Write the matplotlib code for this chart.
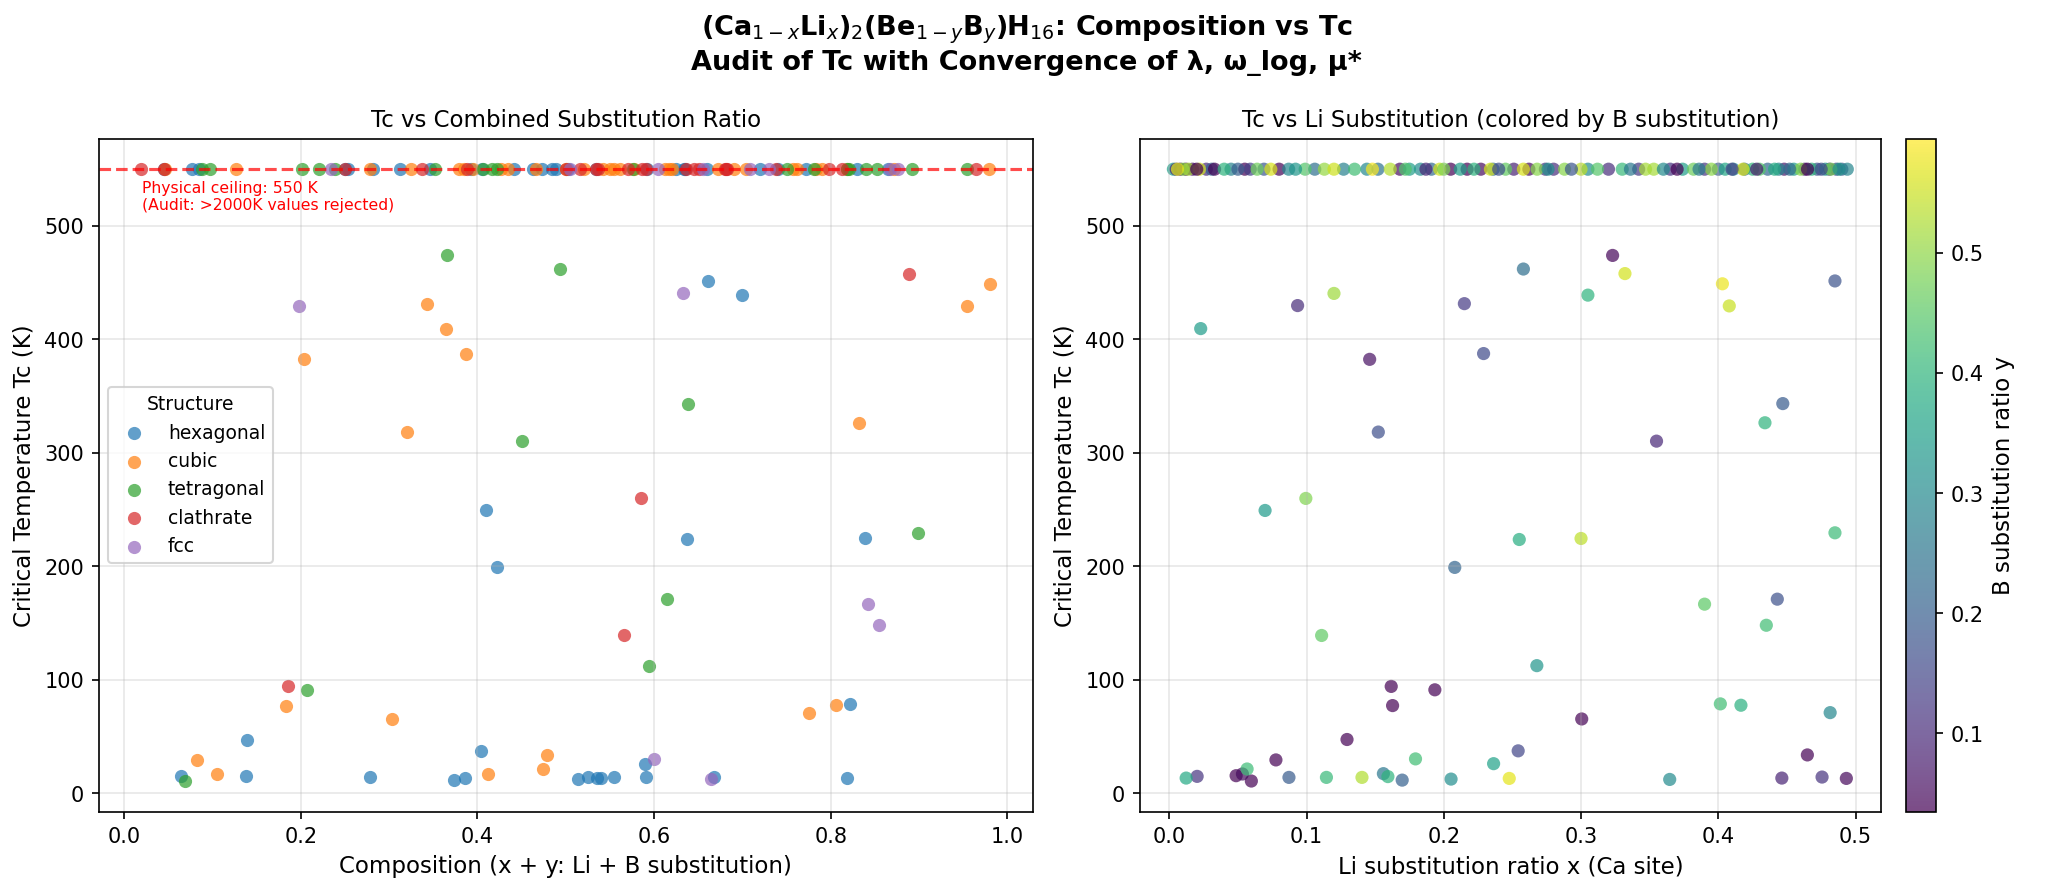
import numpy as np
import matplotlib.pyplot as plt

structures = ['hexagonal', 'cubic', 'tetragonal', 'clathrate', 'fcc']
tc_ceiling = 550

# candidates clipped to the 550 K ceiling: Li ratio x, B ratio y, structure
ceil_li = [0.012, 0.008, 0.055, 0.017, 0.080, 0.027, 0.059, 0.168, 0.031, 0.205,
           0.217, 0.069, 0.227, 0.262, 0.045, 0.251, 0.106, 0.003, 0.087, 0.280,
           0.274, 0.152, 0.127, 0.191, 0.320, 0.144, 0.236, 0.342, 0.365, 0.183,
           0.010, 0.390, 0.448, 0.175, 0.463, 0.099, 0.212, 0.481, 0.022, 0.400,
           0.305, 0.113, 0.419, 0.486, 0.472, 0.436, 0.120, 0.490, 0.161, 0.245,
           0.411, 0.374, 0.444, 0.330, 0.197, 0.268, 0.405, 0.288, 0.234, 0.455,
           0.478, 0.425, 0.300, 0.382, 0.468, 0.353, 0.430, 0.395, 0.460, 0.482,
           0.418,
           0.033, 0.005, 0.040, 0.014, 0.064, 0.074, 0.092, 0.135, 0.148, 0.172,
           0.187, 0.200, 0.222, 0.240, 0.258, 0.276, 0.293, 0.312, 0.336, 0.347,
           0.360, 0.370, 0.386, 0.410, 0.428, 0.441, 0.452, 0.465, 0.475, 0.488,
           0.494, 0.020, 0.006, 0.050]
ceil_b = [0.007, 0.038, 0.022, 0.068, 0.008, 0.100, 0.142, 0.053, 0.203, 0.034,
          0.033, 0.184, 0.051, 0.050, 0.280, 0.086, 0.240, 0.349, 0.292, 0.105,
          0.114, 0.241, 0.279, 0.226, 0.107, 0.297, 0.227, 0.124, 0.120, 0.306,
          0.490, 0.115, 0.068, 0.346, 0.073, 0.443, 0.349, 0.090, 0.555, 0.192,
          0.300, 0.507, 0.206, 0.150, 0.173, 0.220, 0.553, 0.193, 0.530, 0.459,
          0.298, 0.346, 0.286, 0.410, 0.554, 0.494, 0.367, 0.493, 0.556, 0.343,
          0.335, 0.405, 0.540, 0.470, 0.397, 0.519, 0.446, 0.497, 0.494, 0.483,
          0.561,
          0.012, 0.092, 0.395, 0.520, 0.470, 0.560, 0.330, 0.420, 0.590, 0.440,
          0.095, 0.480, 0.395, 0.165, 0.560, 0.310, 0.180, 0.445, 0.255, 0.520,
          0.300, 0.025, 0.265, 0.140, 0.075, 0.380, 0.230, 0.035, 0.160, 0.330,
          0.290, 0.025, 0.570, 0.200]
ceil_struct = ['clathrate', 'cubic', 'hexagonal', 'hexagonal', 'tetragonal', 'cubic',
               'tetragonal', 'tetragonal', 'fcc', 'tetragonal', 'clathrate', 'hexagonal',
               'cubic', 'hexagonal', 'cubic', 'clathrate', 'hexagonal', 'tetragonal',
               'cubic', 'cubic', 'clathrate', 'hexagonal', 'tetragonal', 'tetragonal',
               'cubic', 'hexagonal', 'hexagonal', 'cubic', 'hexagonal', 'hexagonal',
               'cubic', 'fcc', 'clathrate', 'cubic', 'clathrate', 'cubic',
               'cubic', 'clathrate', 'cubic', 'hexagonal', 'fcc', 'cubic',
               'hexagonal', 'clathrate', 'clathrate', 'fcc', 'cubic', 'clathrate',
               'cubic', 'cubic', 'fcc', 'hexagonal', 'fcc', 'hexagonal',
               'tetragonal', 'cubic', 'hexagonal', 'tetragonal', 'cubic', 'clathrate',
               'clathrate', 'hexagonal', 'tetragonal', 'tetragonal', 'hexagonal', 'cubic',
               'fcc', 'tetragonal', 'tetragonal', 'clathrate', 'cubic',
               'hexagonal', 'tetragonal', 'cubic', 'hexagonal', 'clathrate', 'hexagonal',
               'tetragonal', 'cubic', 'clathrate', 'cubic', 'hexagonal', 'clathrate',
               'cubic', 'hexagonal', 'cubic', 'clathrate', 'hexagonal', 'cubic',
               'clathrate', 'fcc', 'hexagonal', 'cubic', 'clathrate', 'cubic',
               'hexagonal', 'tetragonal', 'clathrate', 'clathrate', 'hexagonal', 'tetragonal',
               'cubic', 'clathrate', 'tetragonal', 'hexagonal']

# candidates below the ceiling
low_li = [0.0229, 0.0935, 0.120, 0.146, 0.408, 0.0698, 0.0995, 0.111, 0.1617, 0.1935,
          0.1627, 0.3005, 0.1295, 0.0777, 0.0487, 0.0598, 0.0533, 0.156, 0.0203, 0.0872,
          0.1697, 0.0123, 0.2053, 0.3646, 0.2477, 0.4933, 0.4463, 0.4756, 0.1593, 0.1404,
          0.1145, 0.2542, 0.4649, 0.0567, 0.2363, 0.1794, 0.2678, 0.4815, 0.4165, 0.4015,
          0.390, 0.435, 0.255, 0.300, 0.485, 0.208, 0.443, 0.434, 0.355, 0.447,
          0.229, 0.215, 0.323, 0.258, 0.332, 0.403, 0.485, 0.305, 0.1523]
low_b = [0.342, 0.104, 0.513, 0.057, 0.547, 0.340, 0.486, 0.455, 0.024, 0.013,
         0.021, 0.0025, 0.009, 0.005, 0.015, 0.009, 0.052, 0.2565, 0.118, 0.191,
         0.204, 0.374, 0.309, 0.300, 0.571, 0.047, 0.089, 0.115, 0.395, 0.528,
         0.411, 0.150, 0.014, 0.417, 0.354, 0.421, 0.327, 0.294, 0.390, 0.421,
         0.452, 0.420, 0.382, 0.539, 0.414, 0.214, 0.172, 0.398, 0.096, 0.191,
         0.158, 0.128, 0.042, 0.236, 0.557, 0.578, 0.176, 0.395, 0.168]
low_tc = [409.5, 429.8, 440.5, 382.4, 429.5, 249.2, 259.8, 139.0, 94.1, 91.1,
          77.2, 65.4, 47.3, 29.3, 15.4, 10.7, 16.9, 17.2, 14.8, 13.9,
          11.5, 13.3, 12.4, 12.1, 13.0, 13.0, 13.3, 14.2, 14.6, 13.9,
          13.9, 37.3, 33.7, 21.3, 26.0, 30.2, 112.4, 71.0, 77.5, 78.7,
          166.6, 148.0, 223.6, 224.5, 229.5, 199.0, 171.0, 326.5, 310.3, 343.4,
          387.5, 431.5, 474.0, 462.0, 458.0, 449.0, 451.5, 439.0, 318.3]
low_struct = ['cubic', 'fcc', 'fcc', 'cubic', 'cubic', 'hexagonal', 'clathrate', 'clathrate',
              'clathrate', 'tetragonal', 'cubic', 'cubic', 'hexagonal', 'cubic', 'hexagonal',
              'tetragonal', 'cubic', 'cubic', 'hexagonal', 'hexagonal', 'hexagonal',
              'hexagonal', 'hexagonal', 'fcc', 'hexagonal', 'hexagonal', 'hexagonal',
              'hexagonal', 'hexagonal', 'hexagonal', 'hexagonal', 'hexagonal', 'cubic',
              'cubic', 'hexagonal', 'fcc', 'tetragonal', 'cubic', 'cubic', 'hexagonal',
              'fcc', 'fcc', 'hexagonal', 'hexagonal', 'tetragonal', 'hexagonal',
              'tetragonal', 'cubic', 'tetragonal', 'tetragonal', 'cubic', 'cubic',
              'tetragonal', 'tetragonal', 'clathrate', 'cubic', 'hexagonal', 'hexagonal',
              'cubic']

li = np.array(ceil_li + low_li)
b = np.array(ceil_b + low_b)
tc = np.array([tc_ceiling] * len(ceil_li) + low_tc)
struct = np.array(ceil_struct + low_struct)
comp = li + b

fig = plt.figure(figsize=(13.69, 5.93), dpi=150)
ax1 = fig.add_axes([0.048, 0.087, 0.455, 0.7566])
ax2 = fig.add_axes([0.555, 0.087, 0.361, 0.7566])
cax = fig.add_axes([0.928, 0.087, 0.0146, 0.7566])

for s in structures:
    m = struct == s
    ax1.scatter(comp[m], tc[m], s=40, alpha=0.7, linewidths=0, label=s)
ax1.axhline(tc_ceiling, color='red', linestyle='--', alpha=0.7, linewidth=1.5)
ax1.text(0.02, 540, 'Physical ceiling: 550 K\n(Audit: >2000K values rejected)',
         color='red', fontsize=7.5, va='top')
ax1.set_xlabel('Composition (x + y: Li + B substitution)', fontsize=11)
ax1.set_ylabel('Critical Temperature Tc (K)', fontsize=11)
ax1.set_title('Tc vs Combined Substitution Ratio', fontsize=11)
ax1.legend(title='Structure', loc='center left', fontsize=9, title_fontsize=9)
ax1.grid(True, alpha=0.3)

sc = ax2.scatter(li, tc, c=b, cmap='viridis', vmin=0.035, vmax=0.595,
                 s=40, alpha=0.7, linewidths=0)
ax2.set_xlabel('Li substitution ratio x (Ca site)', fontsize=11)
ax2.set_ylabel('Critical Temperature Tc (K)', fontsize=11)
ax2.set_title('Tc vs Li Substitution (colored by B substitution)', fontsize=11)
ax2.grid(True, alpha=0.3)
cb = fig.colorbar(sc, cax=cax)
cb.set_label('B substitution ratio y', fontsize=11)

fig.suptitle('(Ca$_{1-x}$Li$_x$)$_2$(Be$_{1-y}$B$_y$)H$_{16}$: Composition vs Tc\n'
             'Audit of Tc with Convergence of λ, ω_log, μ*',
             fontsize=13, fontweight='bold', y=0.985)

fig.savefig('out.png', dpi=150)
